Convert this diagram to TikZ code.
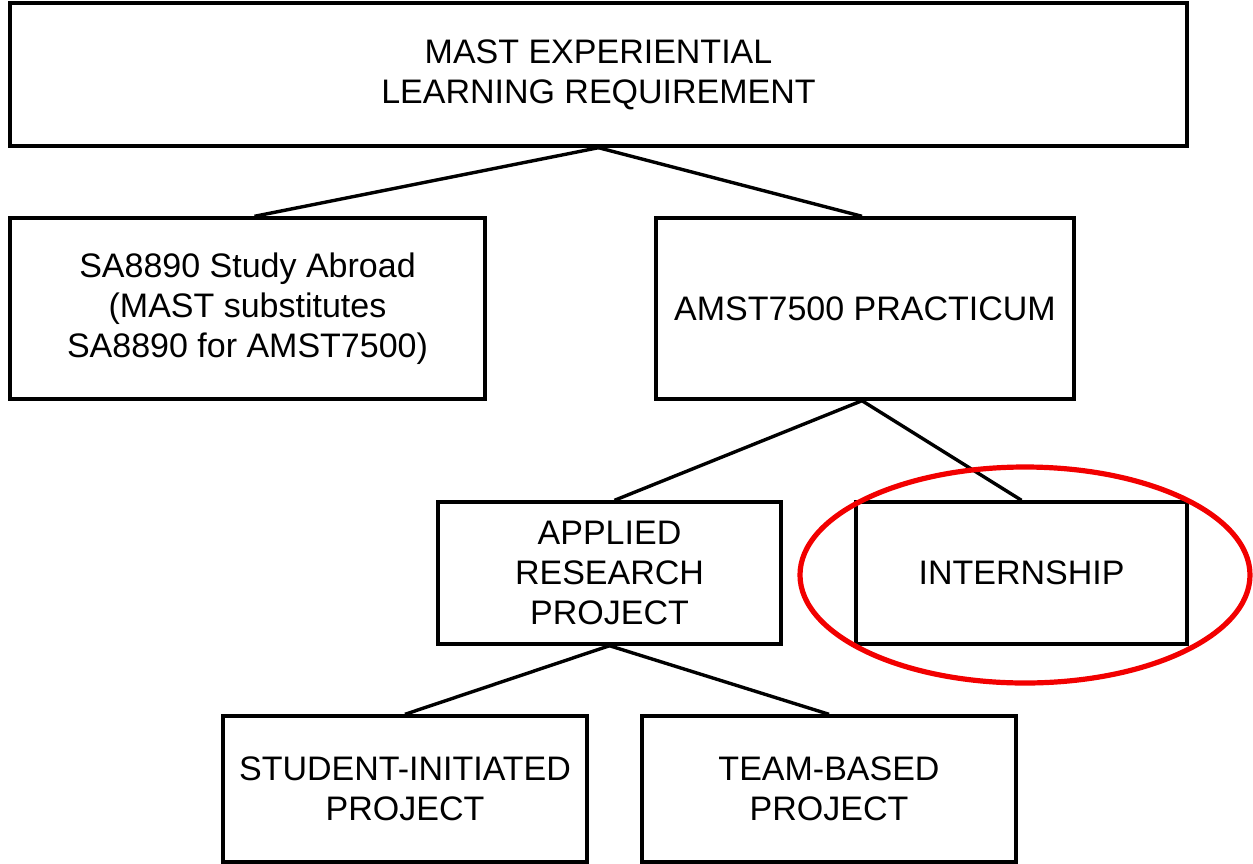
\documentclass[tikz,border=0pt]{standalone}
\usepackage{fontspec}
\setmainfont{Liberation Sans}
\usetikzlibrary{shapes.geometric}
\begin{document}
\begin{tikzpicture}[x=0.5pt,y=-0.5pt,
  box/.style={draw=black,line width=1.7pt,rectangle,inner sep=0pt,align=center,
    font=\fontsize{17pt}{20pt}\selectfont},
  link/.style={draw=black,line width=1.7pt},
  ring/.style={draw=red!95!black,line width=2.6pt}]
\useasboundingbox (0,0) rectangle (1253,863);
\node[box,minimum width=588.5pt,minimum height=71.5pt] (top) at (598.5,74.5) {MAST EXPERIENTIAL\\LEARNING REQUIREMENT};
\node[box,minimum width=237.5pt,minimum height=90.5pt] (sa) at (247.5,308.5) {SA8890 Study Abroad\\(MAST substitutes\\SA8890 for AMST7500)};
\node[box,minimum width=209pt,minimum height=90.5pt] (amst) at (865,308.5) {AMST7500 PRACTICUM};
\node[box,minimum width=171.5pt,minimum height=71pt] (arp) at (609.5,573) {APPLIED\\RESEARCH\\PROJECT};
\node[box,minimum width=165.5pt,minimum height=71pt] (int) at (1021.5,573) {INTERNSHIP};
\node[box,minimum width=182pt,minimum height=73pt] (stu) at (405,789) {STUDENT-INITIATED\\PROJECT};
\node[box,minimum width=187pt,minimum height=73pt] (team) at (829,789) {TEAM-BASED\\PROJECT};
\draw[link] (top.south) -- ([xshift=3.5pt]sa.north);
\draw[link] (top.south) -- ([xshift=-1.5pt]amst.north);
\draw[link] ([xshift=-1.5pt]amst.south) -- ([xshift=2.5pt]arp.north);
\draw[link] ([xshift=-1.5pt]amst.south) -- (int.north);
\draw[link] (arp.south) -- (stu.north);
\draw[link] (arp.south) -- (team.north);
\node[ring,ellipse,minimum width=225pt,minimum height=108pt,inner sep=0pt] (circ) at (1025,575) {};
\end{tikzpicture}
\end{document}
